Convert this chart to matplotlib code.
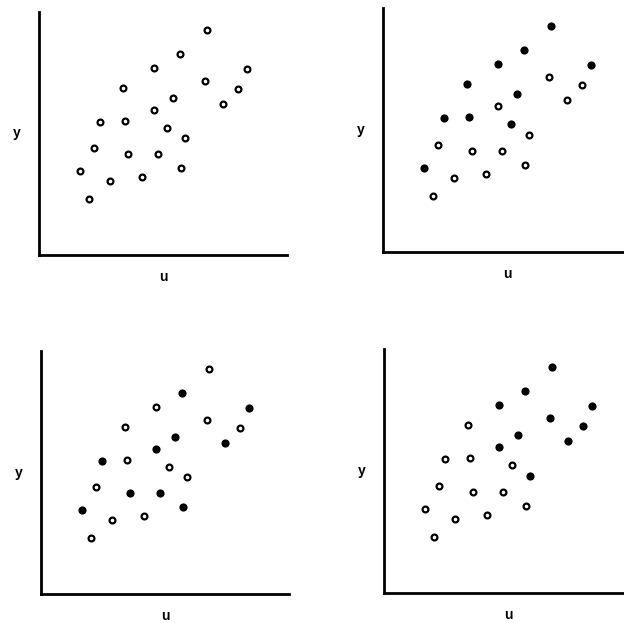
import numpy as np
import matplotlib
matplotlib.use("Agg")
import matplotlib.pyplot as plt

# the same 22 points appear in every panel (u, y in arbitrary units)
u = [168, 141, 115, 208, 166, 84, 199, 134, 184, 115, 61,
     86, 128, 146, 55, 89, 119, 41, 142, 71, 103, 50]
y = [225, 201, 187, 186, 174, 167, 166, 157, 151, 145, 133,
     134, 127, 117, 107, 101, 101, 84, 87, 74, 78, 56]

# which points (1-based) are drawn filled in each panel
filled_1 = []
filled_2 = [1, 2, 3, 4, 6, 8, 11, 12, 13, 18]
filled_3 = [2, 4, 8, 9, 10, 11, 16, 17, 18, 19]
filled_4 = [1, 2, 3, 4, 5, 7, 8, 9, 10, 14]

W, H = 624, 623
fig = plt.figure(figsize=(W / 100, H / 100), dpi=100)

# panel frames in pixels: left, top, bottom
frames = [(39, 12, 255), (383, 8, 252), (41, 351, 594), (384, 349, 593)]
width = 248

u = np.array(u)
y = np.array(y)

for (left, top, bottom), filled in zip(frames, [filled_1, filled_2, filled_3, filled_4]):
    h = bottom - top
    ax = fig.add_axes([left / W, 1 - bottom / H, width / W, h / H])
    ax.set_xlim(0, 248)
    ax.set_ylim(0, 243)
    for s in ['top', 'right']:
        ax.spines[s].set_visible(False)
    for s in ['left', 'bottom']:
        ax.spines[s].set_linewidth(2.0)
        ax.spines[s].set_color('black')
    ax.set_xticks([])
    ax.set_yticks([])

    mask = np.zeros(len(u), dtype=bool)
    if filled:
        mask[np.array(filled) - 1] = True
    ax.plot(u[~mask], y[~mask], 'o', ms=4.2, mfc='white', mec='black',
            mew=1.6, ls='none', clip_on=False)
    ax.plot(u[mask], y[mask], 'o', ms=5.9, mfc='black', mec='black',
            mew=0, ls='none', clip_on=False)

    ax.text(-22 / width, 0.5, 'y', transform=ax.transAxes, ha='center',
            va='center', fontsize=10, fontweight='bold', family='Liberation Sans')
    ax.text(0.5, -22 / h, 'u', transform=ax.transAxes, ha='center',
            va='center', fontsize=10, fontweight='bold', family='Liberation Sans')

fig.savefig('out.png', dpi=100, facecolor='white')
